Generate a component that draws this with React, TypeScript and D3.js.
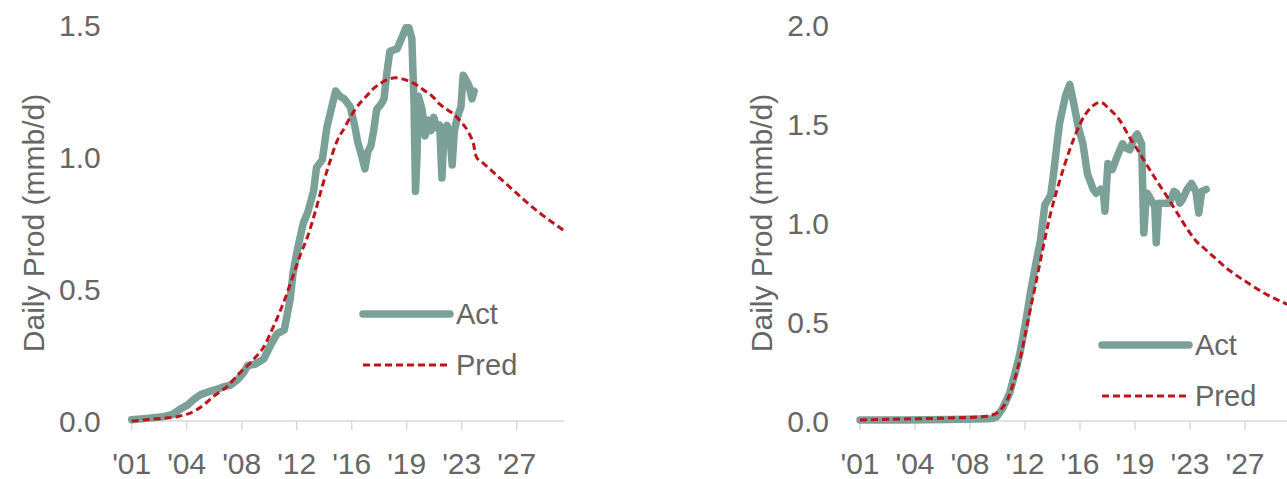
// Two-panel production chart: actual vs predicted daily production
import React from 'react';
import * as d3 from 'd3';

// ---- data (year as decimal, value in mmb/d) ----
const leftActYears = [2001.0, 2002.0, 2003.0, 2003.8, 2004.3, 2004.8, 2005.3, 2005.7, 2006.2, 2006.8, 2007.3, 2007.7, 2008.2, 2008.6, 2008.9, 2009.4, 2010.0, 2010.5, 2010.9, 2011.4, 2011.8, 2012.0, 2012.3, 2012.7, 2013.0, 2013.4, 2013.6, 2014.0, 2014.3, 2014.6, 2014.9, 2015.2, 2015.5, 2015.9, 2016.2, 2016.4, 2016.7, 2016.9, 2017.1, 2017.3, 2017.5, 2017.7, 2018.0, 2018.2, 2018.4, 2018.6, 2019.1, 2019.4, 2019.7, 2019.9, 2020.1, 2020.25, 2020.35, 2020.45, 2020.55, 2020.8, 2021.0, 2021.2, 2021.4, 2021.6, 2021.8, 2022.0, 2022.15, 2022.3, 2022.5, 2022.7, 2022.85, 2023.0, 2023.2, 2023.45, 2023.6, 2023.8, 2024.0, 2024.2, 2024.35];
const leftActValues = [0.005, 0.01, 0.015, 0.025, 0.045, 0.06, 0.085, 0.1, 0.11, 0.12, 0.13, 0.135, 0.155, 0.18, 0.21, 0.215, 0.235, 0.29, 0.33, 0.345, 0.46, 0.56, 0.65, 0.75, 0.79, 0.87, 0.96, 0.99, 1.11, 1.18, 1.25, 1.23, 1.22, 1.19, 1.12, 1.06, 1.0, 0.955, 1.02, 1.04, 1.1, 1.18, 1.2, 1.22, 1.32, 1.4, 1.41, 1.45, 1.49, 1.49, 1.45, 1.2, 0.87, 1.0, 1.23, 1.18, 1.08, 1.14, 1.1, 1.15, 1.11, 1.12, 0.92, 1.1, 1.12, 1.08, 0.97, 1.1, 1.15, 1.19, 1.31, 1.29, 1.27, 1.22, 1.25];

const leftPredYears = [2001, 2002, 2003, 2004, 2004.5, 2005.0, 2005.5, 2006.0, 2006.5, 2007.0, 2007.5, 2008.0, 2008.5, 2009.0, 2009.5, 2010.0, 2010.6, 2011.0, 2011.5, 2012.0, 2012.5, 2013.0, 2013.5, 2014.0, 2014.5, 2015.0, 2015.5, 2016.0, 2016.5, 2017.0, 2017.5, 2018.0, 2018.5, 2019.0, 2019.5, 2020.0, 2020.5, 2021.0, 2021.5, 2022.0, 2022.5, 2023.0, 2023.5, 2024.0, 2024.3, 2024.5, 2025.0, 2026.0, 2027.0, 2028.0, 2029.0, 2030.0, 2030.5];
const leftPredValues = [0.0, 0.005, 0.01, 0.015, 0.022, 0.03, 0.045, 0.065, 0.09, 0.11, 0.13, 0.16, 0.19, 0.215, 0.245, 0.28, 0.35, 0.4, 0.47, 0.55, 0.63, 0.7, 0.79, 0.89, 0.98, 1.06, 1.11, 1.16, 1.2, 1.23, 1.26, 1.28, 1.295, 1.3, 1.295, 1.285, 1.27, 1.25, 1.23, 1.2, 1.18, 1.16, 1.13, 1.09, 1.05, 1.0, 0.975, 0.925, 0.875, 0.825, 0.78, 0.74, 0.72];

const rightActYears = [2001, 2004, 2007, 2009, 2010.0, 2010.3, 2010.7, 2011.2, 2011.6, 2011.9, 2012.3, 2012.6, 2013.0, 2013.3, 2013.6, 2014.0, 2014.2, 2014.4, 2014.6, 2015.0, 2015.3, 2015.5, 2015.9, 2016.2, 2016.5, 2016.9, 2017.1, 2017.4, 2017.6, 2017.7, 2017.9, 2018.2, 2018.5, 2018.9, 2019.1, 2019.4, 2019.7, 2019.9, 2020.2, 2020.35, 2020.5, 2020.6, 2020.9, 2021.1, 2021.2, 2021.35, 2021.7, 2022.1, 2022.4, 2022.6, 2022.8, 2023.0, 2023.3, 2023.6, 2023.9, 2024.1, 2024.3, 2024.6];
const rightActValues = [0.005, 0.005, 0.008, 0.01, 0.012, 0.02, 0.06, 0.14, 0.25, 0.34, 0.5, 0.64, 0.8, 0.91, 1.09, 1.14, 1.25, 1.38, 1.5, 1.64, 1.7, 1.63, 1.48, 1.4, 1.25, 1.17, 1.15, 1.17, 1.15, 1.06, 1.3, 1.27, 1.33, 1.4, 1.38, 1.37, 1.43, 1.45, 1.4, 0.95, 1.12, 1.15, 1.11, 1.08, 0.9, 1.1, 1.1, 1.1, 1.16, 1.15, 1.1, 1.12, 1.17, 1.2, 1.16, 1.05, 1.16, 1.17];

const rightPredYears = [2001, 2004, 2007, 2009, 2010, 2010.5, 2011.0, 2011.5, 2011.9, 2012.3, 2012.6, 2013.0, 2013.3, 2014.0, 2014.6, 2015.3, 2016.0, 2016.7, 2017.4, 2018.0, 2018.7, 2019.4, 2020.0, 2020.5, 2021.0, 2021.7, 2022.3, 2022.8, 2023.4, 2023.9, 2024.5, 2025.1, 2026.2, 2027.4, 2028.7, 2030.1, 2030.5];
const rightPredValues = [0.005, 0.01, 0.015, 0.02, 0.03, 0.05, 0.1, 0.2, 0.31, 0.45, 0.56, 0.7, 0.81, 1.05, 1.21, 1.37, 1.5, 1.58, 1.61, 1.575, 1.52, 1.43, 1.36, 1.3, 1.24, 1.16, 1.09, 1.03, 0.96, 0.91, 0.87, 0.83, 0.76, 0.7, 0.64, 0.59, 0.575];

// x ticks: every 45 months starting Jan 2001
const xTickValues = [2001, 2004.75, 2008.5, 2012.25, 2016, 2019.75, 2023.5, 2027.25];
const xTickLabels = ["'01", "'04", "'08", "'12", "'16", "'19", "'23", "'27"];
const leftYTicks = [0, 0.5, 1.0, 1.5];
const rightYTicks = [0, 0.5, 1.0, 1.5, 2.0];
const seriesNames = ['Act', 'Pred'];

const ACT_COLOR = '#7aa098';
const PRED_COLOR = '#c0141c';
const TEXT_COLOR = '#666666';
const AXIS_COLOR = '#d9d9d9';
const FONT = '"Liberation Sans", Arial, sans-serif';

interface PanelProps {
  left: number,
  yTicks: number[],
  actYears: number[],
  actValues: number[],
  predYears: number[],
  predValues: number[],
  legendX: number,
  legendY: number,
}

const Panel: React.FC<PanelProps> = ({left, yTicks, actYears, actValues, predYears, predValues, legendX, legendY}) => {
  const bottom = 421;
  const top = 25;
  const xScale = d3.scaleLinear().domain([2001, 2030.5]).range([left, left + 29.5 * 14.667]);
  const yScale = d3.scaleLinear().domain([0, d3.max(yTicks) as number]).range([bottom, top]);

  const line = d3.line<[number, number]>()
      .x(d => xScale(d[0]))
      .y(d => yScale(d[1]));
  const actPath = line.curve(d3.curveLinear)(actYears.map((yr, i) => [yr, actValues[i]]));
  const predPath = line.curve(d3.curveMonotoneX)(predYears.map((yr, i) => [yr, predValues[i]]));

  const [x0, x1] = xScale.range();

  return (
      <g fontFamily={FONT} fill={TEXT_COLOR}>
        {/* bottom axis */}
        <line x1={x0} x2={x1} y1={bottom} y2={bottom} stroke={AXIS_COLOR} strokeWidth={1.5}/>
        {xTickValues.map((t, i) => (
            <g key={t}>
              <line x1={xScale(t)} x2={xScale(t)} y1={bottom} y2={bottom + 9} stroke={AXIS_COLOR} strokeWidth={1.5}/>
              <text x={xScale(t)} y={bottom + 53} textAnchor="middle" fontSize={30}>{xTickLabels[i]}</text>
            </g>
        ))}
        {/* y tick labels */}
        {yTicks.map(t => (
            <text key={t} x={left - 31} y={yScale(t)} dy="0.36em" textAnchor="end" fontSize={30}>{t.toFixed(1)}</text>
        ))}
        <text transform={`translate(${left - 99},${(top + bottom) / 2}) rotate(-90)`} textAnchor="middle"
              dy="0.36em" fontSize={30}>Daily Prod (mmb/d)</text>

        <path d={actPath || ''} fill="none" stroke={ACT_COLOR} strokeWidth={7.5} strokeLinejoin="round" strokeLinecap="round"/>
        <path d={predPath || ''} fill="none" stroke={PRED_COLOR} strokeWidth={3} strokeDasharray="7,4"/>

        {/* legend */}
        <line x1={legendX} x2={legendX + 87} y1={legendY} y2={legendY} stroke={ACT_COLOR} strokeWidth={7.5} strokeLinecap="round"/>
        <text x={legendX + 93} y={legendY} dy="0.36em" fontSize={29}>{seriesNames[0]}</text>
        <line x1={legendX} x2={legendX + 87} y1={legendY + 51} y2={legendY + 51} stroke={PRED_COLOR} strokeWidth={3} strokeDasharray="7,4"/>
        <text x={legendX + 93} y={legendY + 51} dy="0.36em" fontSize={29}>{seriesNames[1]}</text>
      </g>
  );
};

const App: React.FC = () => {
  return (
      <svg width={1287} height={479} style={{position: 'absolute', left: 0, top: 0, background: '#fff'}}>
        <Panel left={131.7} yTicks={leftYTicks} actYears={leftActYears} actValues={leftActValues}
               predYears={leftPredYears} predValues={leftPredValues} legendX={363} legendY={314}/>
        <Panel left={860} yTicks={rightYTicks} actYears={rightActYears} actValues={rightActValues}
               predYears={rightPredYears} predValues={rightPredValues} legendX={1102} legendY={345}/>
      </svg>
  );
};

export default App;
